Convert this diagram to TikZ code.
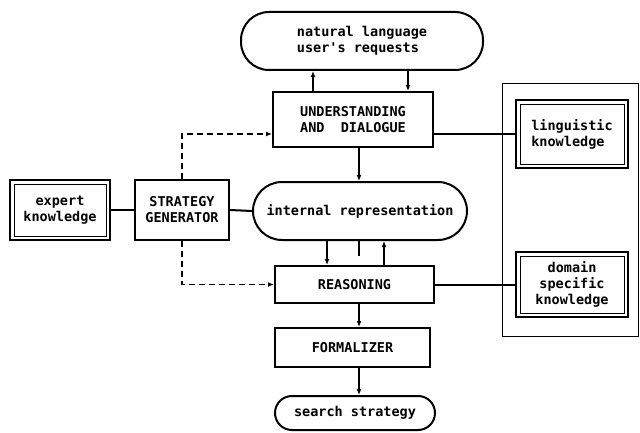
\documentclass[tikz,border=0pt]{standalone}
\usepackage{fontspec}
\setmonofont{DejaVu Sans Mono}
\usetikzlibrary{arrows.meta}
\begin{document}
\begin{tikzpicture}[x=1pt,y=-1pt,
  every node/.style={inner sep=0pt,font=\ttfamily\bfseries\fontsize{13.5}{16}\selectfont},
  box/.style={draw,line width=2pt,rectangle},
  pill/.style={draw,line width=2pt,rectangle,rounded corners=#1},
  dbox/.style={draw,line width=2.8pt,rectangle,
    path picture={\draw[line width=0.8pt]
      ([shift={(4pt,-4pt)}]path picture bounding box.north west) rectangle
      ([shift={(-4pt,4pt)}]path picture bounding box.south east);}},
  conn/.style={line width=2pt},
  arr/.style={line width=2pt,-{Latex[length=6pt,width=5pt]}},
  darr/.style={line width=1.8pt,dash pattern=on 6pt off 4pt,-{Latex[length=6pt,width=5pt]}},
  frame/.style={draw,line width=0.9pt,rectangle}
]
\useasboundingbox (0,0) rectangle (640,433);

% knowledge frame
\node[frame,minimum width=136pt,minimum height=253pt] (kb) at (570,209.5) {};

% nodes
\node[pill=28pt,minimum width=242pt,minimum height=58pt,align=left] (nl) at (362,41)
  {natural language\\user's requests};
\node[box,minimum width=160pt,minimum height=55pt,align=left] (und) at (353,119.5)
  {UNDERSTANDING\\AND~~DIALOGUE};
\node[dbox,minimum width=100pt,minimum height=60pt,align=center] (ek) at (60,210)
  {expert\\knowledge};
\node[box,minimum width=94pt,minimum height=60pt,align=center] (sg) at (182,210)
  {STRATEGY\\GENERATOR};
\node[pill=29pt,minimum width=214pt,minimum height=58pt] (ir) at (360,211)
  {internal representation};
\node[box,minimum width=159pt,minimum height=37pt] (rs) at (354.5,284.5)
  {REASONING};
\node[box,minimum width=155pt,minimum height=39pt] (fm) at (352.5,347.5)
  {FORMALIZER};
\node[pill=17pt,minimum width=160pt,minimum height=34pt] (ss) at (355,413)
  {search strategy};
\node[dbox,minimum width=112pt,minimum height=68pt,align=left] (lk) at (572,134)
  {linguistic\\knowledge};
\node[dbox,minimum width=112pt,minimum height=65pt,align=center] (dk) at (572,284.5)
  {domain\\specific\\knowledge};

% x positions of vertical connectors
\coordinate (xa) at (313,0);
\coordinate (xb) at (408,0);
\coordinate (xc) at (359,0);
\coordinate (xd) at (327,0);
\coordinate (xe) at (384,0);
\coordinate (stub) at (359,256);

% connectors
\draw[arr] (und.north -| xa) -- (nl.south -| xa);
\draw[arr] (nl.south -| xb) -- (und.north -| xb);
\draw[arr] (und.south -| xc) -- (ir.north -| xc);
\draw[arr] (ir.south -| xd) -- (rs.north -| xd);
\draw[arr] (rs.north -| xe) -- (ir.south -| xe);
\draw[conn] (ir.south -| xc) -- (stub);
\draw[arr] (rs.south -| xc) -- (fm.north -| xc);
\draw[arr] (fm.south -| xc) -- (ss.north -| xc);

\draw[conn] (ek.east) -- (sg.west);
\draw[conn] (sg.east) -- (ir.west);
\draw[darr] (sg.north) |- (und.west |- lk.west);
\draw[darr] (sg.south) |- (rs.west);
\draw[conn] (und.east |- lk.west) -- (lk.west);
\draw[conn] (rs.east) -- (dk.west);
\end{tikzpicture}
\end{document}
